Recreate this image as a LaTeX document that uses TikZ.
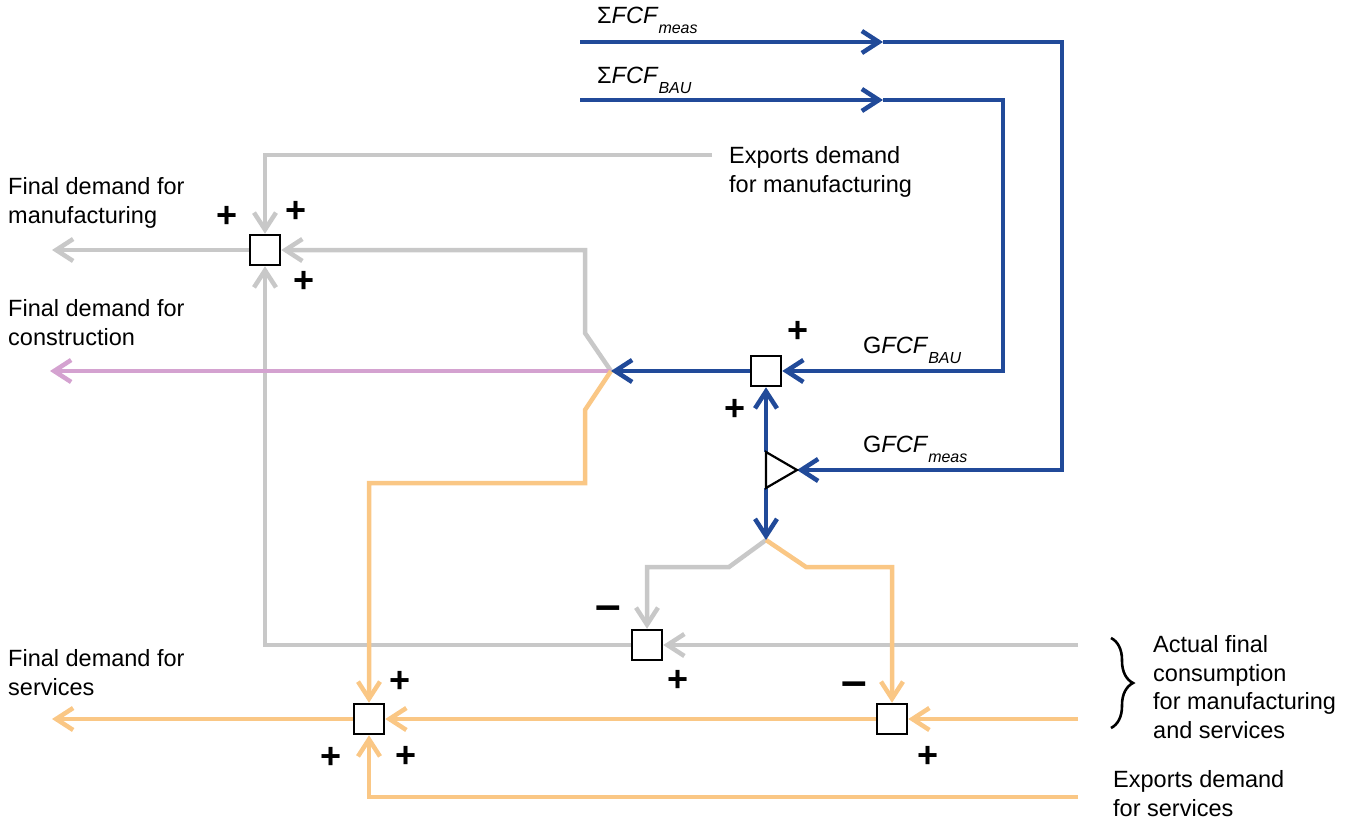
\documentclass[tikz,border=0pt]{standalone}
\usepackage{fontspec}
\setmainfont{Liberation Sans}
\usetikzlibrary{arrows.meta,decorations.pathreplacing}
\definecolor{flowblue}{RGB}{33,74,153}
\definecolor{flowgray}{RGB}{200,200,200}
\definecolor{floworange}{RGB}{250,199,133}
\definecolor{flowpink}{RGB}{212,162,208}
\newcommand{\sub}[1]{\raisebox{-10pt}{\fontsize{16}{16}\selectfont\textit{#1}}}
\tikzset{
	line/.style={line width=4.5pt},
	flow/.style={line width=4.5pt, -{Straight Barb[length=17pt,width=22pt]}},
	sumbox/.style={draw, fill=white, line width=2.5pt, minimum size=30pt, inner sep=0pt},
	sgn/.style={font=\fontsize{36}{36}\selectfont\bfseries, inner sep=0pt},
	neg/.style={font=\fontsize{46}{46}\selectfont\bfseries, inner sep=0pt},
	lbl/.style={font=\fontsize{23.5}{28.5}\selectfont, align=left, inner sep=0pt, anchor=base west},
}

\begin{document}
\begin{tikzpicture}[x=1pt, y=-1pt]
			%%%%% START %%%%%
			\useasboundingbox (0, 0) rectangle (1354, 822);
			
			\node[sumbox] (A) at (265, 250) {};
			\node[sumbox] (B) at (766, 371) {};
			\node[sumbox] (C) at (647, 645) {};
			\node[sumbox] (D) at (369, 719) {};
			\node[sumbox] (E) at (892, 719) {};
			
			\coordinate (jB) at (611, 371);
			\coordinate (jT) at (766, 540);
			\coordinate (Ttop) at (766, 452);
			\coordinate (Tbot) at (766, 488);
			\coordinate (Ttip) at (797, 470);
			
			\coordinate (fcfM) at (580, 42);
			\coordinate (midM) at (883, 42);
			\coordinate (fcfB) at (580, 100);
			\coordinate (midB) at (883, 100);
			\coordinate (expM) at (712, 155);
			\coordinate (afcM) at (1078, 645);
			\coordinate (afcS) at (1078, 719);
			\coordinate (expS) at (1078, 797);
			\coordinate (outM) at (52, 250);
			\coordinate (outC) at (50, 371);
			\coordinate (outS) at (52, 719);
			
			% manufacturing
			\draw[flow, flowgray] (expM) -| (A.north);
			\draw[flow, flowgray] (A.west) -- (outM);
			\draw[flow, flowgray] (jB) -- (585, 333) -- (585, 250) -- (A.east);
			\draw[flow, flowgray] (C.west) -| (A.south);
			\draw[flow, flowgray] (afcM) -- (C.east);
			\draw[flow, flowgray] (jT) -- (729, 567) -| (C.north);
			
			% construction
			\draw[flow, flowpink] (jB) -- (outC);
			
			% services
			\draw[flow, floworange] (jB) -- (585, 410) -- (585, 483) -| (D.north);
			\draw[flow, floworange] (D.west) -- (outS);
			\draw[flow, floworange] (E.west) -- (D.east);
			\draw[flow, floworange] (afcS) -- (E.east);
			\draw[flow, floworange] (expS) -| (D.south);
			\draw[flow, floworange] (jT) -- (806, 567) -| (E.north);
			
			% GFCF
			\draw[flow, flowblue] (fcfM) -- (midM);
			\draw[flow, flowblue] (midM) -- (1062, 42) |- (Ttip);
			\draw[flow, flowblue] (fcfB) -- (midB);
			\draw[flow, flowblue] (midB) -- (1003, 100) |- (B.east);
			\draw[flow, flowblue] (B.west) -- (jB);
			\draw[flow, flowblue] (Ttop) -- (B.south);
			\draw[flow, flowblue] (Tbot) -- (jT);
			\draw[line width=2.2pt, fill=white] (Ttop) -- (Ttip) -- (Tbot) -- cycle;
			
			% signs
			\node[sgn] (sA1) at (227, 217) {+};
			\node[sgn] (sA2) at (296, 212) {+};
			\node[sgn] (sA3) at (304, 282) {+};
			\node[sgn] (sB1) at (798, 332) {+};
			\node[sgn] (sB2) at (735, 410) {+};
			\node[neg] (sC1) at (608, 613) {--};
			\node[sgn] (sC2) at (678, 681) {+};
			\node[sgn] (sD1) at (400, 682) {+};
			\node[sgn] (sD2) at (331, 758) {+};
			\node[sgn] (sD3) at (406, 757) {+};
			\node[neg] (sE1) at (854, 689) {--};
			\node[sgn] (sE2) at (928, 757) {+};
			
			% labels
			\node[lbl] (lFCFm) at (597, 23) {Σ\textit{FCF}\sub{meas}};
			\node[lbl] (lFCFb) at (597, 83) {Σ\textit{FCF}\sub{BAU}};
			\node[lbl] (lGFb) at (863, 353) {G\textit{FCF}\sub{BAU}};
			\node[lbl] (lGFm) at (863, 452) {G\textit{FCF}\sub{meas}};
			\node[lbl] (lexpM) at (729, 192) {Exports demand\\for manufacturing};
			\node[lbl] (lfdM) at (8, 223) {Final demand for\\manufacturing};
			\node[lbl] (lfdC) at (8, 345) {Final demand for\\construction};
			\node[lbl] (lfdS) at (8, 695) {Final demand for\\services};
			\node[lbl] (lafc) at (1153, 738) {Actual final\\consumption\\for manufacturing\\and services};
			\node[lbl] (lexpS) at (1113, 816) {Exports demand\\for services};
			\draw[line width=2.6pt, decorate, decoration={brace, amplitude=22pt}] (1111, 638) -- (1111, 728);
			
			%%%%% END %%%%%
\end{tikzpicture}
\end{document}
